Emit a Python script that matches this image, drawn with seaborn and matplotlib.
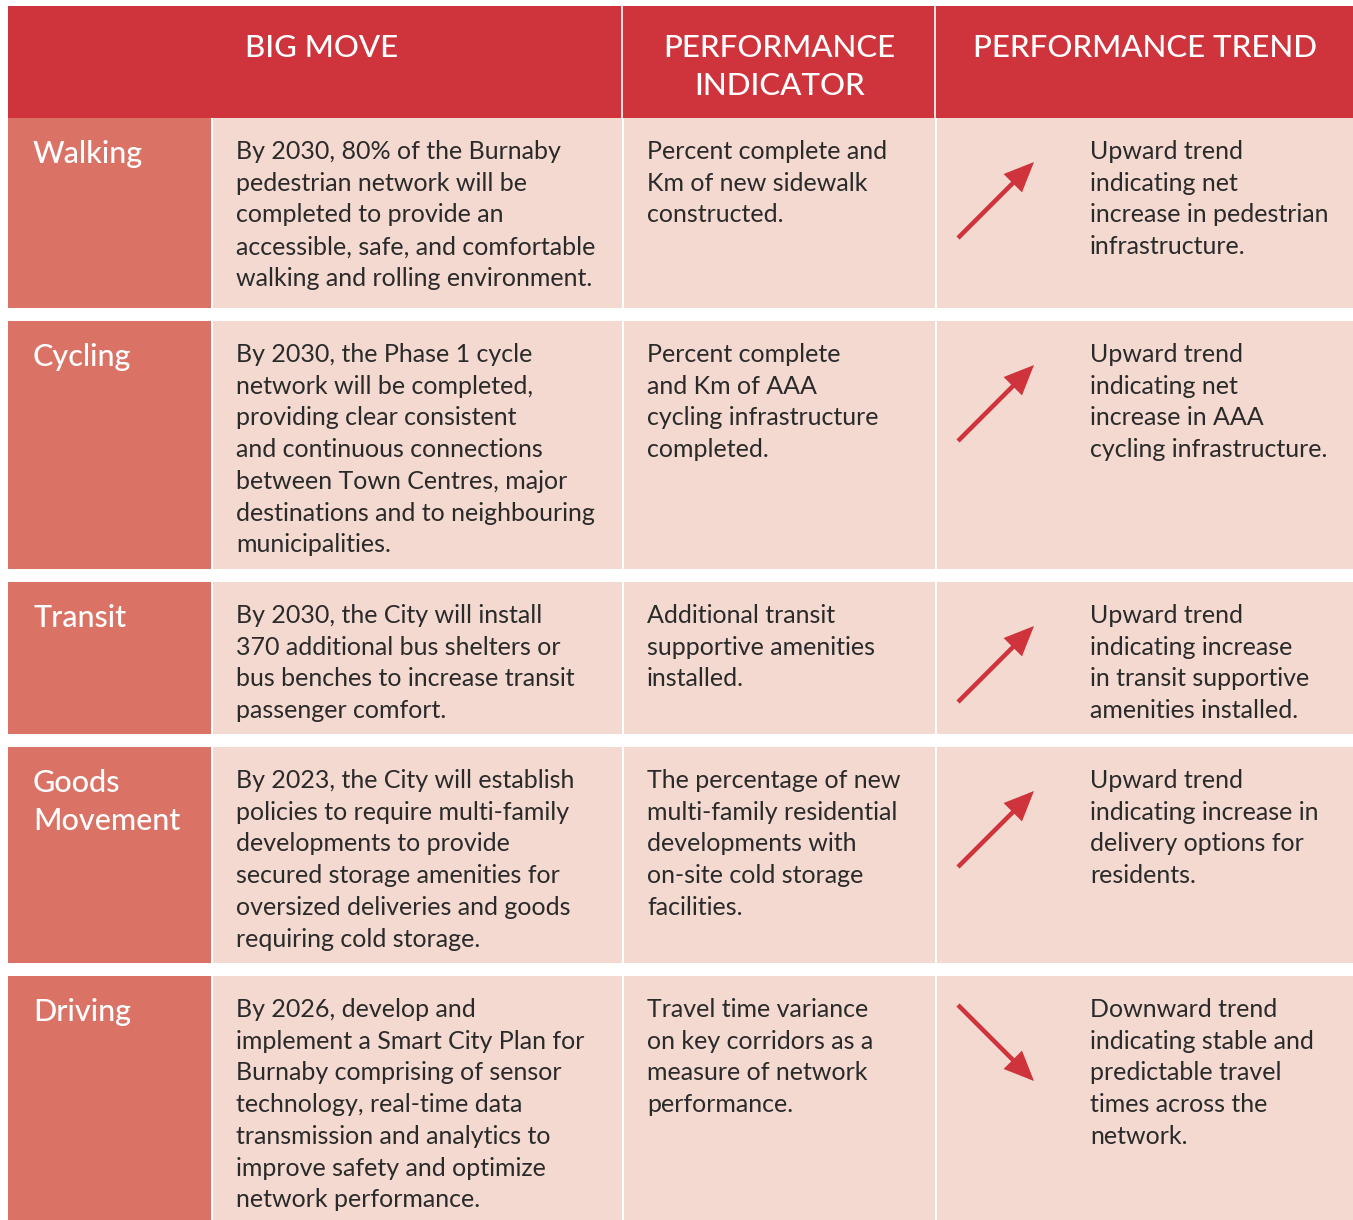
import seaborn as sns
import matplotlib.pyplot as plt
from matplotlib.patches import Rectangle, FancyArrow

# Table content
headers = ['BIG MOVE', 'PERFORMANCE\nINDICATOR', 'PERFORMANCE TREND']
categories = ['Walking', 'Cycling', 'Transit', 'Goods\nMovement', 'Driving']
big_moves = [
    'By 2030, 80% of the Burnaby\npedestrian network will be\ncompleted to provide an\naccessible, safe, and comfortable\nwalking and rolling environment.',
    'By 2030, the Phase 1 cycle\nnetwork will be completed,\nproviding clear consistent\nand continuous connections\nbetween Town Centres, major\ndestinations and to neighbouring\nmunicipalities.',
    'By 2030, the City will install\n370 additional bus shelters or\nbus benches to increase transit\npassenger comfort.',
    'By 2023, the City will establish\npolicies to require multi-family\ndevelopments to provide\nsecured storage amenities for\noversized deliveries and goods\nrequiring cold storage.',
    'By 2026, develop and\nimplement a Smart City Plan for\nBurnaby comprising of sensor\ntechnology, real-time data\ntransmission and analytics to\nimprove safety and optimize\nnetwork performance.',
]
indicators = [
    'Percent complete and\nKm of new sidewalk\nconstructed.',
    'Percent complete\nand Km of AAA\ncycling infrastructure\ncompleted.',
    'Additional transit\nsupportive amenities\ninstalled.',
    'The percentage of new\nmulti-family residential\ndevelopments with\non-site cold storage\nfacilities.',
    'Travel time variance\non key corridors as a\nmeasure of network\nperformance.',
]
trend_dir = [1, 1, 1, 1, -1]   # 1 = upward, -1 = downward
trend_text = [
    'Upward trend\nindicating net\nincrease in pedestrian\ninfrastructure.',
    'Upward trend\nindicating net\nincrease in AAA\ncycling infrastructure.',
    'Upward trend\nindicating increase\nin transit supportive\namenities installed.',
    'Upward trend\nindicating increase in\ndelivery options for\nresidents.',
    'Downward trend\nindicating stable and\npredictable travel\ntimes across the\nnetwork.',
]

# layout (pixels)
W, H = 1353, 1220
col_x = [8, 211, 622, 935, 1353]
head_top, head_bot = 6, 118
row_h = [190, 248, 152, 216, 244]
gap = 13

red = '#CF333C'
cat_col = '#DA7265'
cell_col = '#F3D9D0'
txt_col = '#2A2A2A'

sns.set_theme(style='white')
plt.rcParams['font.family'] = ['Lato', 'DejaVu Sans']

fig = plt.figure(figsize=(W / 100, H / 100), dpi=100)
ax = fig.add_axes([0, 0, 1, 1])
ax.set_xlim(0, W)
ax.set_ylim(H, 0)
ax.axis('off')

# header
ax.add_patch(Rectangle((col_x[0], head_top), W - col_x[0], head_bot - head_top, color=red, lw=0))
for xv in col_x[2:4]:
    ax.plot([xv, xv], [head_top, head_bot], color='white', lw=1.2)
head_cx = [(col_x[0] + col_x[2]) / 2 + 7, (col_x[2] + col_x[3]) / 2 + 1, (col_x[3] + col_x[4]) / 2 + 1]
for cx, h in zip(head_cx, headers):
    ax.text(cx, 34, h, color='white', fontsize=22.5, ha='center', va='top',
            linespacing=1.43, fontweight='medium')

# rows
body = dict(color=txt_col, fontsize=18, ha='left', va='top', linespacing=1.46)
y = head_bot
for i in range(len(categories)):
    h = row_h[i]
    ax.add_patch(Rectangle((col_x[0], y), col_x[1] - col_x[0], h, color=cat_col, lw=0))
    for j in range(1, 4):
        ax.add_patch(Rectangle((col_x[j] + 1.5, y), col_x[j + 1] - col_x[j] - 1.5, h, color=cell_col, lw=0))
    ax.text(33, y + 22, categories[i], color='white', fontsize=22, ha='left', va='top',
            linespacing=1.42, fontweight='medium')
    ax.text(236, y + 22, big_moves[i], **body)
    ax.text(647, y + 22, indicators[i], **body)
    ax.text(1090, y + 22, trend_text[i], **body)

    # trend arrow
    d = trend_dir[i]
    cy = y + (82 if d > 0 else 67)
    ax.add_patch(FancyArrow(958, cy + 38 * d, 76, -76 * d, width=4.5, head_width=26,
                            head_length=30, length_includes_head=True, color=red, lw=0))
    y += h + gap

fig.savefig('out.png', dpi=100)
